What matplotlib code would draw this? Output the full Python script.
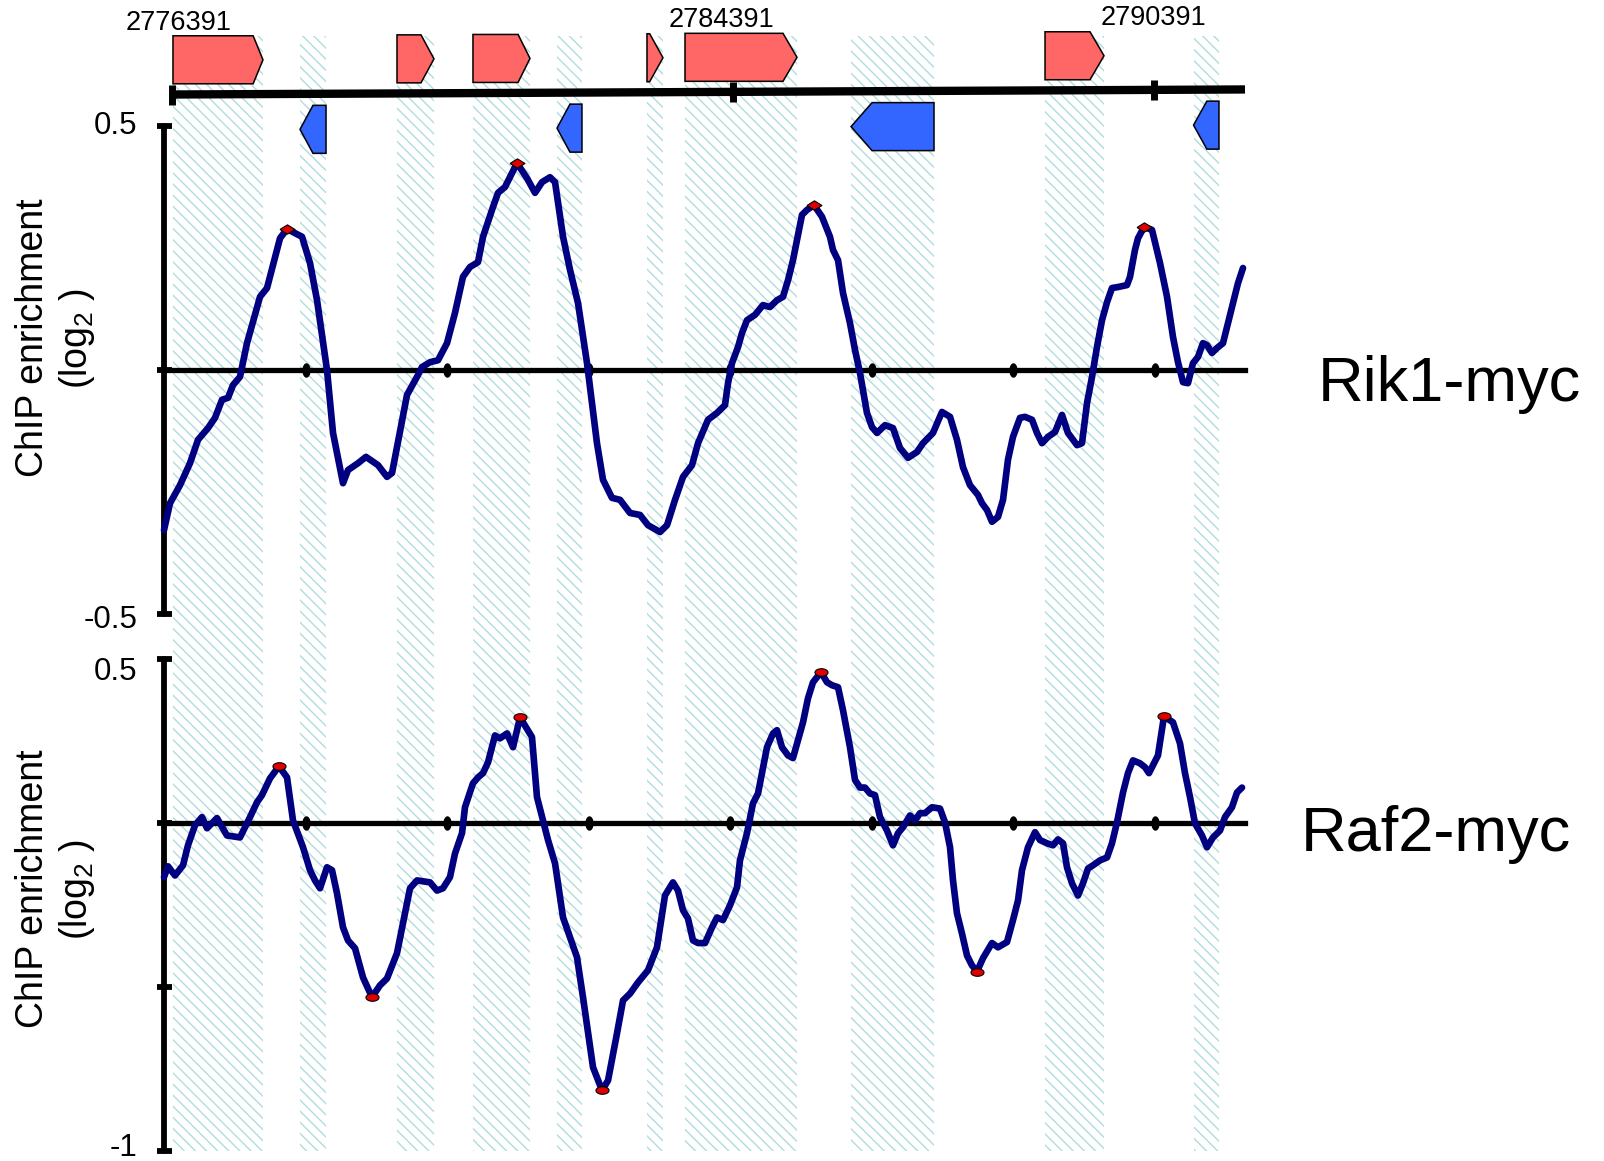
import numpy as np
import matplotlib
matplotlib.use("Agg")
import matplotlib.pyplot as plt
import matplotlib.transforms as mtransforms
from matplotlib.patches import Polygon, Rectangle

plt.rcParams['font.family'] = ['Liberation Sans', 'DejaVu Sans']
plt.rcParams['mathtext.fontset'] = 'custom'
plt.rcParams['mathtext.rm'] = 'Liberation Sans'
plt.rcParams['hatch.linewidth'] = 1.0

# ---- data: positions in kb from 2776391 ----
coord_labels = [2776391, 2784391, 2790391]
coord_kb = [0, 8, 14]

fwd_start = [0.014, 3.208, 4.291, 6.772, 7.314, 12.447]
fwd_end = [1.297, 3.735, 5.104, 7.000, 8.911, 13.288]
rev_start = [1.825, 5.489, 9.681, 14.564]
rev_end = [2.196, 5.845, 10.864, 14.927]

rik1_kb = [0.000, 0.085, 0.226, 0.367, 0.481, 0.622, 0.721, 0.820, 0.905, 0.975,
           1.074, 1.173, 1.357, 1.456, 1.640, 1.739, 1.951, 2.064, 2.163, 2.304,
           2.389, 2.530, 2.601, 2.742, 2.855, 3.025, 3.152, 3.223, 3.293, 3.435,
           3.576, 3.647, 3.760, 3.873, 4.000, 4.113, 4.226, 4.325, 4.438, 4.509,
           4.650, 4.721, 4.820, 4.989, 5.131, 5.244, 5.343, 5.456, 5.527, 5.640,
           5.739, 5.852, 5.979, 6.120, 6.205, 6.332, 6.445, 6.587, 6.728, 6.841,
           7.011, 7.110, 7.223, 7.336, 7.463, 7.548, 7.689, 7.816, 7.929, 7.972,
           8.028, 8.113, 8.170, 8.240, 8.353, 8.466, 8.565, 8.664, 8.749, 8.820,
           8.890, 8.947, 9.018, 9.088, 9.187, 9.300, 9.413, 9.456, 9.527, 9.597,
           9.696, 9.767, 9.837, 9.936, 10.007, 10.078, 10.191, 10.304, 10.403, 10.516,
           10.643, 10.728, 10.869, 10.996, 11.110, 11.208, 11.293, 11.392, 11.505, 11.562,
           11.633, 11.703, 11.788, 11.859, 11.929, 12.000, 12.099, 12.170, 12.269, 12.339,
           12.410, 12.495, 12.594, 12.693, 12.777, 12.905, 12.975, 13.046, 13.117, 13.187,
           13.258, 13.329, 13.399, 13.484, 13.611, 13.654, 13.724, 13.767, 13.852, 13.965,
           14.078, 14.177, 14.261, 14.332, 14.403, 14.473, 14.544, 14.615, 14.685, 14.742,
           14.813, 14.883, 14.968, 15.039, 15.109, 15.180, 15.251]
rik1_val = [-0.328, -0.273, -0.236, -0.191, -0.143, -0.119, -0.098, -0.061, -0.057, -0.031,
            -0.014, 0.055, 0.150, 0.168, 0.270, 0.289, 0.273, 0.219, 0.143, 0.000,
            -0.129, -0.232, -0.205, -0.191, -0.178, -0.195, -0.219, -0.211, -0.158, -0.051,
            -0.014, 0.006, 0.016, 0.020, 0.055, 0.117, 0.191, 0.211, 0.221, 0.273,
            0.334, 0.363, 0.375, 0.424, 0.393, 0.363, 0.385, 0.395, 0.385, 0.273,
            0.205, 0.137, 0.014, -0.150, -0.225, -0.262, -0.266, -0.293, -0.297, -0.318,
            -0.332, -0.318, -0.266, -0.219, -0.195, -0.150, -0.102, -0.088, -0.072, -0.027,
            0.014, 0.047, 0.076, 0.102, 0.113, 0.133, 0.129, 0.143, 0.150, 0.184,
            0.225, 0.266, 0.318, 0.328, 0.338, 0.314, 0.273, 0.246, 0.225, 0.158,
            0.096, 0.041, -0.006, -0.088, -0.117, -0.129, -0.113, -0.119, -0.160, -0.180,
            -0.168, -0.150, -0.129, -0.086, -0.096, -0.143, -0.199, -0.236, -0.256, -0.273,
            -0.287, -0.311, -0.301, -0.266, -0.184, -0.137, -0.098, -0.096, -0.102, -0.129,
            -0.150, -0.137, -0.127, -0.092, -0.129, -0.154, -0.150, -0.068, -0.014, 0.047,
            0.102, 0.139, 0.168, 0.170, 0.174, 0.191, 0.246, 0.270, 0.293, 0.287,
            0.219, 0.150, 0.068, 0.016, -0.025, -0.027, 0.014, 0.027, 0.055, 0.051,
            0.035, 0.045, 0.055, 0.096, 0.137, 0.178, 0.209]
rik1_marks = [15, 43, 84, 138]

raf2_kb = [0.000, 0.057, 0.155, 0.269, 0.339, 0.438, 0.537, 0.608, 0.749, 0.890,
           1.074, 1.216, 1.314, 1.385, 1.498, 1.625, 1.739, 1.823, 1.965, 2.064,
           2.134, 2.205, 2.304, 2.375, 2.445, 2.530, 2.601, 2.700, 2.813, 2.940,
           3.053, 3.152, 3.293, 3.378, 3.477, 3.576, 3.760, 3.859, 3.943, 4.042,
           4.113, 4.212, 4.254, 4.367, 4.438, 4.509, 4.580, 4.678, 4.749, 4.848,
           4.933, 5.032, 5.201, 5.272, 5.428, 5.527, 5.640, 5.837, 5.922, 6.064,
           6.191, 6.276, 6.403, 6.488, 6.587, 6.700, 6.841, 6.968, 7.081, 7.194,
           7.265, 7.336, 7.406, 7.477, 7.548, 7.647, 7.746, 7.816, 7.901, 8.000,
           8.099, 8.141, 8.240, 8.325, 8.396, 8.452, 8.523, 8.608, 8.664, 8.735,
           8.820, 8.890, 8.961, 9.032, 9.102, 9.173, 9.286, 9.371, 9.442, 9.527,
           9.597, 9.696, 9.767, 9.837, 9.908, 9.979, 10.049, 10.120, 10.219, 10.304,
           10.375, 10.445, 10.544, 10.615, 10.686, 10.756, 10.855, 10.968, 11.039, 11.110,
           11.152, 11.208, 11.279, 11.350, 11.420, 11.491, 11.576, 11.703, 11.788, 11.915,
           12.000, 12.071, 12.127, 12.212, 12.311, 12.382, 12.481, 12.565, 12.636, 12.707,
           12.763, 12.834, 12.919, 12.989, 13.060, 13.131, 13.230, 13.329, 13.399, 13.470,
           13.555, 13.625, 13.696, 13.795, 13.866, 13.922, 14.049, 14.134, 14.261, 14.360,
           14.431, 14.502, 14.572, 14.671, 14.742, 14.827, 14.926, 14.996, 15.095, 15.166,
           15.237]
raf2_val = [-0.165, -0.132, -0.160, -0.129, -0.068, -0.007, 0.018, -0.016, 0.015, -0.038,
            -0.044, 0.018, 0.063, 0.085, 0.136, 0.173, 0.139, 0.008, -0.074, -0.144,
            -0.175, -0.199, -0.135, -0.144, -0.214, -0.318, -0.358, -0.382, -0.471, -0.531,
            -0.495, -0.474, -0.397, -0.306, -0.199, -0.175, -0.181, -0.206, -0.199, -0.165,
            -0.093, -0.031, 0.048, 0.121, 0.139, 0.152, 0.185, 0.267, 0.258, 0.273,
            0.231, 0.322, 0.262, 0.079, -0.052, -0.123, -0.288, -0.409, -0.531, -0.745,
            -0.815, -0.785, -0.641, -0.541, -0.520, -0.486, -0.449, -0.379, -0.221, -0.181,
            -0.206, -0.266, -0.291, -0.358, -0.366, -0.366, -0.318, -0.288, -0.296, -0.251,
            -0.196, -0.114, -0.031, 0.060, 0.090, 0.152, 0.231, 0.273, 0.283, 0.231,
            0.206, 0.198, 0.252, 0.307, 0.380, 0.429, 0.460, 0.429, 0.420, 0.414,
            0.344, 0.231, 0.131, 0.108, 0.108, 0.090, 0.085, 0.018, -0.023, -0.068,
            -0.031, -0.013, 0.023, 0.008, 0.030, 0.030, 0.048, 0.044, 0.002, -0.074,
            -0.175, -0.275, -0.337, -0.404, -0.434, -0.453, -0.412, -0.366, -0.379, -0.363,
            -0.296, -0.236, -0.144, -0.074, -0.028, -0.052, -0.062, -0.068, -0.050, -0.062,
            -0.135, -0.184, -0.221, -0.184, -0.139, -0.129, -0.114, -0.105, -0.062, 0.002,
            0.093, 0.152, 0.191, 0.182, 0.170, 0.152, 0.206, 0.325, 0.307, 0.243,
            0.152, 0.079, -0.001, -0.038, -0.074, -0.044, -0.023, 0.018, 0.048, 0.093,
            0.108]
raf2_marks = [15, 29, 51, 60, 96, 125, 157]

grid_kb = [2, 4, 6, 8, 10, 12, 14]

# ---- figure ----
W, H = 1604, 1161
fig = plt.figure(figsize=(W / 100, H / 100), dpi=100)

# background: gene track + stripes (x in kb, y in pixel rows)
px_per_kb = 70.14
x0 = 172
bg = fig.add_axes([0, 0, 1, 1])
bg.set_xlim(-x0 / px_per_kb, (W - x0) / px_per_kb)
bg.set_ylim(H, 0)
bg.axis('off')

tilt = 0.33  # track slopes up a little to the right
stripe_col = '#b0dcdd'
for s, e in zip(fwd_start + rev_start, fwd_end + rev_end):
    bg.add_patch(Rectangle((s, 36), e - s, 1115, facecolor='none', edgecolor=stripe_col,
                           hatch='\\\\\\', linewidth=0, zorder=0))

fwd_head = [0.14, 0.185, 0.17, 0.19, 0.2, 0.2]
rev_head = [0.185, 0.185, 0.3, 0.19]
for s, e, hd in zip(fwd_start, fwd_end, fwd_head):
    dy = -tilt * (s + e) / 2
    top, bot = 36 + dy, 84 + dy
    pts = [(s, bot), (s, top), (e - hd, top), (e, (top + bot) / 2), (e - hd, bot)]
    bg.add_patch(Polygon(pts, closed=True, facecolor='#ff6666', edgecolor='black', lw=1.1, zorder=3))
for s, e, hd in zip(rev_start, rev_end, rev_head):
    dy = -tilt * (s + e) / 2
    top, bot = 106 + dy, 154 + dy
    pts = [(e, bot), (e, top), (s + hd, top), (s, (top + bot) / 2), (s + hd, bot)]
    bg.add_patch(Polygon(pts, closed=True, facecolor='#3366ff', edgecolor='black', lw=1.1, zorder=3))

line_end = (1245 - x0) / px_per_kb
bg.plot([0, line_end], [94.5, 94.5 - tilt * line_end], color='black', lw=6,
        solid_capstyle='butt', zorder=4)
label_kb = [0.09, 7.84, 13.99]
for t, lx, lab in zip(coord_kb, label_kb, coord_labels):
    yc = 94.5 - tilt * t
    bg.plot([t, t], [yc - 10, yc + 10], color='black', lw=5, solid_capstyle='butt', zorder=4)
    bg.text(lx, 30 - tilt * t, str(lab), ha='center', va='baseline', fontsize=19.5)

# ---- data panels ----
x_left, x_right = 164, 1245
data_px_per_kb = 70.75
xmax = (x_right - x_left) / data_px_per_kb

ell = [(np.cos(a), 0.58 * np.sin(a)) for a in np.linspace(0, 2 * np.pi, 41)]
dot = [(0.52 * np.cos(a), np.sin(a)) for a in np.linspace(0, 2 * np.pi, 41)]
diamond = [(-1, 0), (0, 0.62), (1, 0), (0, -0.62), (-1, 0)]


def panel(top_px, bot_px, ylim, ticks, labels, shifts, xs, ys, marks, marker, ms):
    ax = fig.add_axes([x_left / W, 1 - bot_px / H, (x_right - x_left) / W, (bot_px - top_px) / H])
    ax.patch.set_alpha(0)
    ax.set_xlim(0, xmax)
    ax.set_ylim(*ylim)
    for sp in ['top', 'right', 'bottom']:
        ax.spines[sp].set_visible(False)
    ax.spines['left'].set_linewidth(4.2)
    ax.spines['left'].set_capstyle('round')
    ax.set_xticks([])
    ax.set_yticks(ticks, labels)
    ax.tick_params(axis='y', direction='inout', length=10.8, width=4.2, labelsize=22.5, pad=14)
    for lab, sh in zip(ax.get_yticklabels(), shifts):
        lab.set_transform(lab.get_transform() +
                          mtransforms.ScaledTranslation(0, -sh / 100, fig.dpi_scale_trans))
    ax.axhline(0, color='black', lw=3.8, zorder=2, clip_on=False)
    ax.plot(grid_kb, [0] * len(grid_kb), ls='none', marker=dot, ms=9.4, color='black', zorder=3)
    xs = np.array(xs)
    ys = np.array(ys)
    ax.plot(xs, ys, color='#000080', lw=4.8, solid_joinstyle='round', solid_capstyle='round',
            zorder=4, clip_on=False)
    ax.plot(xs[marks], ys[marks], ls='none', marker=marker, ms=ms, mfc='#e00000', mec='black',
            mew=0.8, zorder=5, clip_on=False)
    return ax


panel(126, 614, (-0.5, 0.5), [-0.5, 0, 0.5], ['-0.5', '', '0.5'], [2, 0, -4],
      rik1_kb, rik1_val, rik1_marks, diamond, 10.8)
panel(659, 1151, (-1, 0.5), [-1, -0.5, 0, 0.5], ['-1', '', '', '0.5'], [-6, 0, 0, 10],
      raf2_kb, raf2_val, raf2_marks, ell, 9.4)

ylab = 'ChIP enrichment\n(log$_\\mathregular{2}$ )'
fig.text(56 / W, 1 - 338 / H, ylab, rotation=90, ha='center', va='center',
         multialignment='center', fontsize=27)
fig.text(56 / W, 1 - 889 / H, ylab, rotation=90, ha='center', va='center',
         multialignment='center', fontsize=27)

fig.text(1318 / W, 1 - 401 / H, 'Rik1-myc', fontsize=45.5, va='baseline', ha='left')
fig.text(1301 / W, 1 - 851 / H, 'Raf2-myc', fontsize=45.5, va='baseline', ha='left')

fig.savefig('out.png', dpi=100)
